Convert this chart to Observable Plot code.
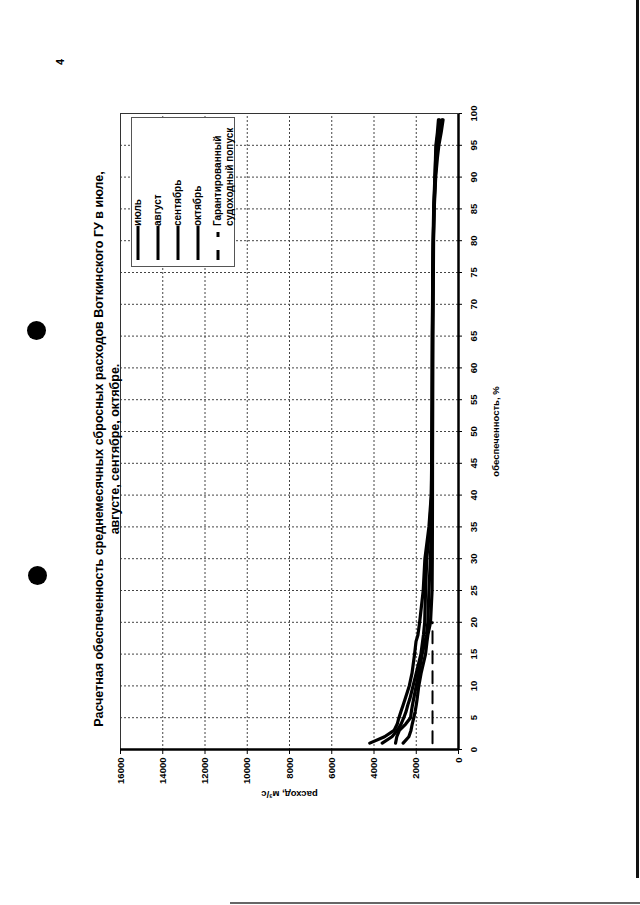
<!DOCTYPE html>
<html><head><meta charset="utf-8">
<script src="https://cdn.jsdelivr.net/npm/d3@7"></script>
<script src="https://cdn.jsdelivr.net/npm/@observablehq/plot@0.6"></script>
<style>
html,body{margin:0;padding:0;width:640px;height:905px;overflow:hidden;background:#fff;}
#page{position:absolute;left:0;top:0;width:905px;height:640px;transform-origin:0 0;transform:translateY(905px) rotate(-90deg);font-family:"Liberation Sans",Arial,sans-serif;color:#000;}
#chart{position:absolute;left:0;top:0;}
#title{position:absolute;left:0;top:91px;width:912px;text-align:center;font-weight:bold;font-size:12.5px;line-height:16px;}
#legend{position:absolute;left:638px;top:131px;width:150px;height:104px;border:1px solid #555;background:#fff;box-sizing:border-box;}
.item{position:absolute;left:6px;font-size:10px;font-weight:bold;line-height:12px;display:flex;align-items:flex-start;white-space:nowrap;}
.item svg{flex:none;}
#pnum{position:absolute;left:840px;top:54px;font-size:11px;font-weight:bold;}
.hole{position:absolute;width:19px;height:19px;border-radius:50%;background:#000;}
</style>
</head><body>
<div id="page">
  <div id="chart"></div>
  <div id="title"></div>
  <div id="legend"></div>
  <div id="pnum">4</div>
</div>
<div class="hole" style="left:27px;top:321px"></div>
<div class="hole" style="left:28px;top:566px"></div>
<div style="position:absolute;left:636px;top:0;width:3px;height:878px;background:#111"></div>
<div style="position:absolute;left:230px;top:902px;width:410px;height:2px;background:#666"></div>
<script>
const titleLines = ["Расчетная обеспеченность среднемесячных сбросных расходов Воткинского ГУ в июле,", "августе, сентябре, октябре."];
const xLabel = "обеспеченность, %";
const yLabel = "расход, м³/с";
const months = ["июль", "август", "сентябрь", "октябрь"];
const guaranteedName = ["Гарантированный", "судоходный попуск"];

const xTicks = [0,5,10,15,20,25,30,35,40,45,50,55,60,65,70,75,80,85,90,95,100];
const yTicks = [0,2000,4000,6000,8000,10000,12000,14000,16000];

const pct = [1,2,3,4,5,6,7,8,10,12,15,17,18,20,25,30,35,40,45,50,55,60,65,70,75,80,85,90,93,95,97,99];
const july = [4200,3500,3050,2900,2820,2720,2620,2520,2330,2200,2080,2010,1920,1840,1670,1590,1400,1290,1270,1260,1250,1245,1240,1230,1220,1205,1175,1120,1080,1050,960,900];
const august = [3610,3150,2900,2720,2590,2480,2400,2300,2150,2000,1780,1700,1660,1600,1560,1500,1360,1280,1265,1255,1245,1240,1235,1225,1215,1195,1160,1100,1040,980,870,780];
const september = [2980,2920,2800,2500,2270,2230,2180,2120,2000,1880,1720,1580,1520,1450,1400,1330,1285,1260,1250,1245,1240,1235,1230,1220,1210,1190,1165,1110,1090,1070,1000,950];
const october = [2620,2350,2250,2190,2115,2050,2000,1955,1880,1770,1560,1490,1450,1325,1250,1240,1235,1232,1230,1225,1220,1215,1210,1200,1190,1180,1150,1080,1000,930,820,730];
const guaranteedPct = [1, 20];
const guaranteedFlow = [1230, 1230];

const seriesValues = [july, august, september, october];
const rows = [];
seriesValues.forEach((vals, i) => vals.forEach((v, j) => rows.push({p: pct[j], q: v, s: months[i]})));
const guar = guaranteedPct.map((p, i) => ({p, q: guaranteedFlow[i]}));

const chart = Plot.plot({
  width: 905, height: 640,
  marginLeft: 155, marginRight: 114, marginTop: 120, marginBottom: 182,
  style: {fontFamily: "'Liberation Sans', Arial, sans-serif", fontSize: "9.5px", fontWeight: "bold", background: "transparent", color: "#000", overflow: "visible"},
  x: {domain: [0, 100], ticks: xTicks, label: xLabel, labelAnchor: "center", labelOffset: 40, tickSize: 4, tickPadding: 8, labelArrow: "none"},
  y: {domain: [0, 16000], ticks: yTicks, label: yLabel, labelAnchor: "center", labelOffset: 48, tickSize: 4, tickPadding: 4, tickFormat: d3.format("d"), labelArrow: "none"},
  marks: [
    Plot.gridX(xTicks.slice(1, -1), {stroke: "#444", strokeOpacity: 1, strokeDasharray: "2,2"}),
    Plot.gridY(yTicks.slice(1, -1), {stroke: "#444", strokeOpacity: 1, strokeDasharray: "2,2"}),
    Plot.frame({stroke: "#333", strokeWidth: 1}),
    Plot.ruleY([0], {stroke: "#000", strokeWidth: 2.5}),
    Plot.ruleX([0], {stroke: "#000", strokeWidth: 2.5}),
    Plot.line(guar, {x: "p", y: "q", stroke: "#000", strokeWidth: 2, strokeDasharray: "12,8"}),
    Plot.line(rows, {x: "p", y: "q", z: "s", stroke: "#000", strokeWidth: 3.2, strokeLinejoin: "round"})
  ]
});
document.getElementById("chart").appendChild(chart);
document.getElementById("title").innerHTML = titleLines.join("<br>");

const legend = document.getElementById("legend");
const entries = months.map(m => ({label: [m], dash: null})).concat([{label: guaranteedName, dash: "10,13,5,40"}]);
entries.forEach((e, i) => {
  const d = document.createElement("div");
  d.className = "item";
  d.style.top = (i * 20) + "px";
  d.innerHTML = `<svg width="34" height="12"><line x1="0" x2="34" y1="6" y2="6" stroke="#000" stroke-width="3" ${e.dash ? `stroke-dasharray="${e.dash}"` : ""}/></svg><span>${e.label.join("<br>")}</span>`;
  legend.appendChild(d);
});
</script>
</body></html>
